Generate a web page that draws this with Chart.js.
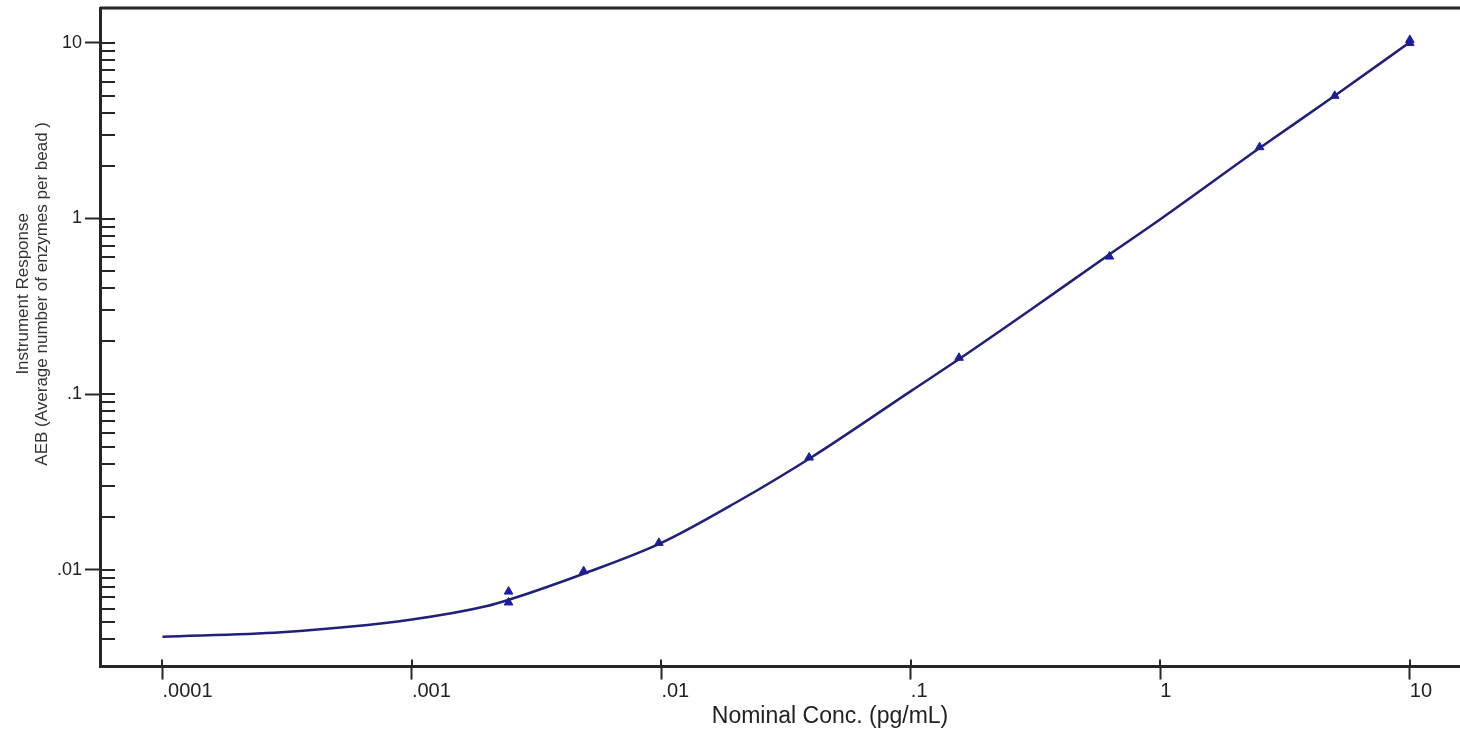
<!DOCTYPE html>
<html>
<head>
<meta charset="utf-8">
<script src="https://cdn.jsdelivr.net/npm/chart.js@4/dist/chart.umd.min.js"></script>
<style>
  html, body { margin: 0; padding: 0; background: #fff; overflow: hidden; }
  /* the original is cropped on the right; the plot keeps going past the edge */
  #wrap { position: relative; width: 1566px; height: 732px; }
</style>
</head>
<body>
<div id="wrap"><canvas id="curve"></canvas></div>
<script>
// measured standards (pg/mL) and their responses (AEB)
const stdConc = [0.00244, 0.00244, 0.00488, 0.00977, 0.0391, 0.156, 0.625, 2.5, 5, 10, 10];
const stdAeb  = [0.0075, 0.0065, 0.0098, 0.0142, 0.0435, 0.161, 0.607, 2.55, 5.0, 10.4, 10.0];

// fitted curve
const fitConc = [0.0001, 0.0003, 0.001, 0.002, 0.0025, 0.005, 0.01, 0.02, 0.04, 0.1, 0.16, 0.3, 0.6, 1, 2.5, 5, 10];
const fitAeb  = [0.00415, 0.0044, 0.0052, 0.0062, 0.0068, 0.0096, 0.0142, 0.0242, 0.0437, 0.104, 0.162, 0.30, 0.60, 0.99, 2.52, 5.0, 10.1];

// tick labels
const xTickValues = [0.0001, 0.001, 0.01, 0.1, 1, 10];
const xTickLabels = ['.0001', '.001', '.01', '.1', '1', '10'];
const yTickValues = [0.01, 0.1, 1, 10];
const yTickLabels = ['.01', '.1', '1', '10'];
const yTitleLines = ['Instrument Response', 'AEB (Average number of enzymes per bead )'];

const AXIS = '#262626';
const FONT = 'Liberation Sans, Arial, sans-serif';

function isPow10(v) {
  const l = Math.log10(v);
  return Math.abs(l - Math.round(l)) < 1e-6;
}
function isNice(v) {
  const m = v / Math.pow(10, Math.floor(Math.log10(v) + 1e-9));
  return Math.abs(m - Math.round(m)) < 1e-6;
}
function labelFor(vals, labels) {
  return (v) => {
    const i = vals.findIndex(t => Math.abs(Math.log10(t) - Math.log10(v)) < 1e-6);
    return i < 0 ? '' : labels[i];
  };
}

// top frame line, ticks that point into the plot, and the y title
// (the original sits it a bit above the middle of the axis)
const frame = {
  id: 'frame',
  afterDraw(chart) {
    const { ctx, chartArea: a, scales } = chart;
    ctx.save();
    ctx.strokeStyle = AXIS;
    ctx.lineWidth = 3;
    ctx.beginPath();
    ctx.moveTo(a.left, a.top);
    ctx.lineTo(a.right, a.top);
    ctx.stroke();

    ctx.lineWidth = 2;
    ctx.beginPath();
    scales.y.ticks.forEach(t => {
      if (!isNice(t.value)) return;
      const y = Math.round(scales.y.getPixelForValue(t.value));
      ctx.moveTo(a.left, y);
      ctx.lineTo(a.left + 15, y);
    });
    scales.x.ticks.forEach(t => {
      if (!isPow10(t.value)) return;
      const x = Math.round(scales.x.getPixelForValue(t.value));
      ctx.moveTo(x, a.bottom);
      ctx.lineTo(x, a.bottom - 7);
    });
    ctx.stroke();

    const cy = a.top + (a.bottom - a.top) * 0.434;
    ctx.translate(0, cy);
    ctx.rotate(-Math.PI / 2);
    ctx.fillStyle = '#333';
    ctx.font = '17px ' + FONT;
    ctx.textAlign = 'center';
    ctx.textBaseline = 'middle';
    ctx.fillText(yTitleLines[0], 0, 23);
    ctx.fillText(yTitleLines[1], 0, 42);
    ctx.restore();
  }
};

new Chart(document.getElementById('curve'), {
  type: 'scatter',
  data: {
    datasets: [
      {
        label: 'Fit',
        data: fitConc.map((c, i) => ({ x: c, y: fitAeb[i] })),
        showLine: true,
        borderColor: '#20207a',
        borderWidth: 2.5,
        pointRadius: 0,
        cubicInterpolationMode: 'monotone'
      },
      {
        label: 'Standards',
        data: stdConc.map((c, i) => ({ x: c, y: stdAeb[i] })),
        pointStyle: 'triangle',
        pointRadius: 5,
        backgroundColor: '#1c1ca8',
        borderColor: '#1c1ca8',
        borderWidth: 1
      }
    ]
  },
  options: {
    responsive: true,
    maintainAspectRatio: false,
    animation: false,
    layout: { padding: { top: 8, left: 54, right: 0, bottom: 0 } },
    plugins: { legend: { display: false }, tooltip: { enabled: false } },
    scales: {
      x: {
        type: 'logarithmic',
        min: 5.62e-5,
        max: 40.0,
        border: { color: AXIS, width: 3 },
        grid: {
          drawOnChartArea: false,
          tickLength: 13,
          tickWidth: 2,
          tickColor: (c) => (c.tick && isPow10(c.tick.value)) ? AXIS : 'rgba(0,0,0,0)'
        },
        ticks: {
          autoSkip: false,
          maxRotation: 0,
          align: 'start',
          padding: 0,
          color: '#222',
          font: { family: FONT, size: 20 },
          callback: labelFor(xTickValues, xTickLabels)
        },
        title: {
          display: true,
          text: 'Nominal Conc. (pg/mL)',
          color: '#222',
          font: { family: FONT, size: 23, lineHeight: 1.15 },
          padding: { top: 0, bottom: 2 }
        }
      },
      y: {
        type: 'logarithmic',
        min: 0.002805,
        max: 15.82,
        border: { color: AXIS, width: 3 },
        grid: {
          drawOnChartArea: false,
          tickLength: 15,
          tickWidth: 2,
          tickColor: (c) => (c.tick && isPow10(c.tick.value)) ? AXIS : 'rgba(0,0,0,0)'
        },
        ticks: {
          autoSkip: false,
          padding: 3,
          color: '#222',
          font: { family: FONT, size: 18, lineHeight: 0.5 },
          callback: labelFor(yTickValues, yTickLabels)
        }
      }
    }
  },
  plugins: [frame]
});
</script>
</body>
</html>
